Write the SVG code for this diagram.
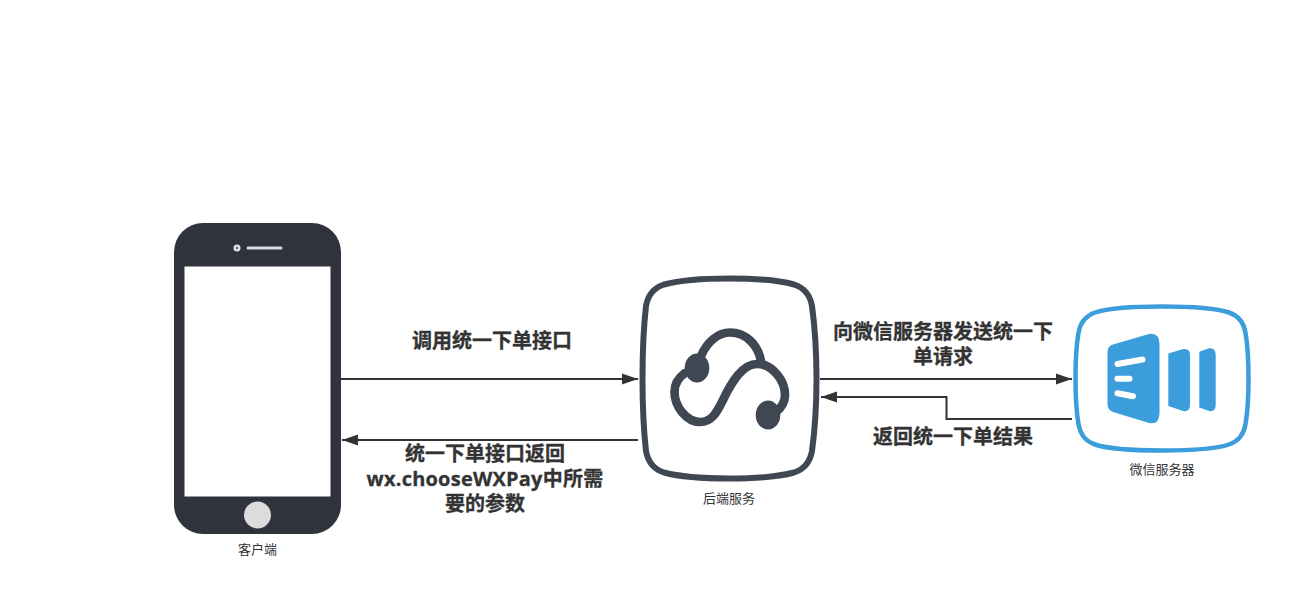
<svg xmlns="http://www.w3.org/2000/svg" width="1313" height="596" viewBox="0 0 1313 596">
<defs>
<style>
text{font-family:"Open Sans","Noto Sans CJK SC",sans-serif;text-anchor:middle;fill:#333}
.lbl{font-size:20px;font-weight:700;stroke:#333;stroke-width:.3}
.cap{font-size:13px}
.conn{fill:none;stroke:#333;stroke-width:2}
.fr{fill:#fff;stroke-width:6}
.ic{fill:none;stroke:#3f4852;stroke-width:8.7;stroke-linecap:round}
.wl{fill:none;stroke:#fff;stroke-width:6;stroke-linecap:round}
</style>
<marker id="ah" markerUnits="userSpaceOnUse" markerWidth="17" markerHeight="14" refX="16" refY="7" orient="auto"><path d="M0 1.500L16 7L0 12.500Z" fill="#333"/></marker>
</defs>
<rect width="1313" height="596" fill="#fff"/>
<g id="connectors">
<path class="conn" marker-end="url(#ah)" d="M341 379H638"/>
<path class="conn" marker-end="url(#ah)" d="M638 440H342"/>
<path class="conn" marker-end="url(#ah)" d="M820 379H1072"/>
<path class="conn" marker-end="url(#ah)" d="M1072 419H946.500V397H821"/>
</g>
<g id="client">
<rect x="174" y="223" width="167" height="311" rx="29" fill="#30333c"/>
<rect x="184.500" y="266.500" width="146" height="230" fill="#fff"/>
<circle cx="237" cy="248" r="3.500" fill="#dfe3e6"/>
<circle cx="237" cy="248" r="1.200" fill="#3a6d8c"/>
<rect x="246.500" y="246.500" width="36" height="3" rx="1.500" fill="#dcdcdc"/>
<circle cx="257.500" cy="515" r="13.500" fill="#dcdcdc"/>
<text class="cap" x="257.500" y="554">客户端</text>
</g>
<g id="backend">
<path class="fr" stroke="#3f4852" d="M729 278.500C757 278.500 781 281 794 284.500C805 288 810 295 812 306C815 328 816.500 355 816.500 378.500C816.500 402 815 429 812 451C810 462 805 469 794 472.500C781 476 757 478.500 729 478.500C701 478.500 677 476 664 472.500C653 469 648 462 646 451C643.500 429 642.500 402 642.500 378.500C642.500 355 643.500 328 646 306C648 295 653 288 664 284.500C677 281 701 278.500 729 278.500Z"/>
<path class="ic" d="M701 356C707 342 718 332.500 730 332.500C746 332.500 758 345 761 361"/>
<path class="ic" d="M685 373C678 378 674.500 385 674.500 392C674.500 407 687 422 700 422C712 422 717 412 723 400C732 381 743 364 757 364C772 364 785 380 785 395C785 402 781 408 776 412"/>
<ellipse cx="697" cy="368" rx="12.300" ry="14.500" fill="#3f4852"/>
<ellipse cx="768" cy="415" rx="12.300" ry="14.500" fill="#3f4852"/>
<text class="cap" x="729" y="503">后端服务</text>
</g>
<g id="wechat">
<path fill="#fff" stroke="#3b9ddb" stroke-width="4.500" d="M1162 306.500C1192 306.500 1217 308.500 1229 312.500C1239 316 1244 323 1245.500 333C1248 347 1248.500 363 1248.500 378.500C1248.500 394 1248 410 1245.500 424C1244 434 1239 441 1229 444.500C1217 448.500 1192 450.500 1162 450.500C1132 450.500 1107 448.500 1095 444.500C1085 441 1080 434 1078.500 424C1076 410 1075.500 394 1075.500 378.500C1075.500 363 1076 347 1078.500 333C1080 323 1085 316 1095 312.500C1107 308.500 1132 306.500 1162 306.500Z"/>
<path fill="#3b9ddb" d="M1107.500 352Q1107.500 346 1113 344.500L1149 334Q1159.500 332.500 1159.500 344V413Q1159.500 425 1149 423L1113 412Q1107.500 410 1107.500 404Z"/>
<path fill="#3b9ddb" d="M1168.300 353.500L1183 349Q1190 348 1190 355V405Q1190 412 1183 411L1168.300 406Z"/>
<path fill="#3b9ddb" d="M1199.300 351.700L1209 348.300Q1215.700 347.500 1215.700 355V405Q1215.700 412 1209 411L1199.300 407.500Z"/>
<path class="wl" d="M1117.500 364L1142.500 359.500"/>
<path class="wl" d="M1117.500 378.700H1129.500"/>
<path class="wl" d="M1117.500 393.300L1133 396.300"/>
<text class="cap" x="1162" y="474">微信服务器</text>
</g>
<g id="labels">
<text class="lbl" x="492" y="348">调用统一下单接口</text>
<text class="lbl" x="485" y="461">统一下单接口返回</text>
<text class="lbl" x="485" y="486" letter-spacing=".22">wx.chooseWXPay中所需</text>
<text class="lbl" x="485" y="511">要的参数</text>
<text class="lbl" x="943" y="339">向微信服务器发送统一下</text>
<text class="lbl" x="943" y="364">单请求</text>
<text class="lbl" x="953" y="444">返回统一下单结果</text>
</g>
</svg>
